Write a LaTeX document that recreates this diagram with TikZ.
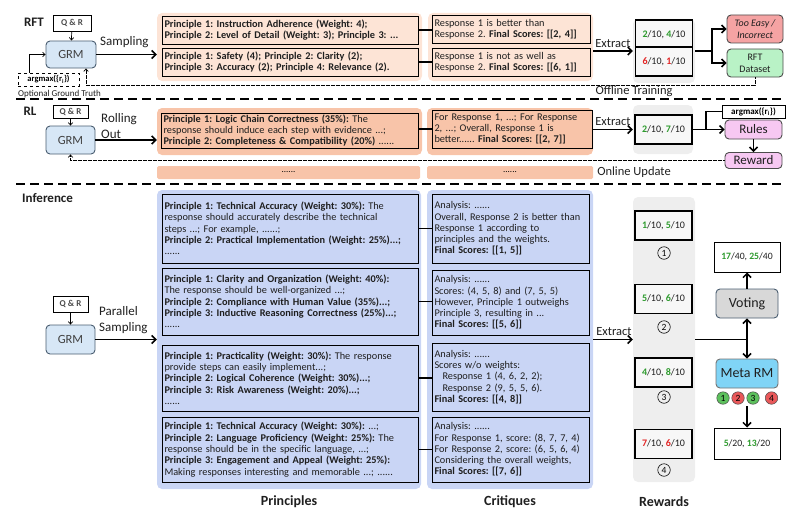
\documentclass[tikz,border=0pt]{standalone}
\usepackage{fontspec}
\setmainfont{Carlito}
\usetikzlibrary{arrows.meta,calc}
\definecolor{salL}{HTML}{FDE4D6}
\definecolor{salD}{HTML}{F8C4A9}
\definecolor{blueBg}{HTML}{C9D5F5}
\definecolor{greyBg}{HTML}{EEEEEE}
\definecolor{grmFill}{HTML}{D7E7F6}
\definecolor{grmDraw}{HTML}{4A5D70}
\definecolor{teFill}{HTML}{F5A3A3}
\definecolor{rdFill}{HTML}{B9F2C6}
\definecolor{pinkFill}{HTML}{F7C8F2}
\definecolor{votFill}{HTML}{D8D8D8}
\definecolor{metaFill}{HTML}{80D4F6}
\definecolor{scG}{HTML}{2E9B2E}
\definecolor{scR}{HTML}{E22424}
\definecolor{circG}{HTML}{5DC15D}
\definecolor{circR}{HTML}{E9585A}
\definecolor{txtc}{HTML}{1F1F1F}
\newcommand{\gnum}[1]{\textcolor{scG}{\textbf{#1}}}
\newcommand{\rnum}[1]{\textcolor{scR}{\textbf{#1}}}
\tikzset{
  arr/.style={line width=1.5pt, -{Straight Barb[length=4pt,width=8pt]}},
  thinarr/.style={line width=0.7pt, -{Straight Barb[length=2.5pt,width=4.5pt]}},
  conn/.style={line width=1.5pt},
  dotln/.style={line width=0.7pt, dash pattern=on 1.6pt off 0.9pt},
  sepln/.style={line width=1.6pt, dash pattern=on 9pt off 5pt},
  bgbox/.style={rounded corners=5pt, draw=none, inner sep=0pt},
  tbox/.style={font=\fontsize{10.3}{11.3}\selectfont, align=left, inner xsep=2.5pt, inner ysep=1pt, draw=black, line width=0.9pt, text=txtc},
  scbox/.style={draw, line width=1.8pt, fill=white!55!greyBg, minimum width=57pt, minimum height=29pt, inner sep=0pt, font=\fontsize{10}{11}\selectfont, text=txtc},
  resbox/.style={draw, line width=1pt, fill=white, minimum width=66pt, minimum height=30pt, inner sep=0pt, font=\fontsize{9.7}{11}\selectfont, text=txtc},
  qrbox/.style={draw, line width=0.8pt, fill=white, inner sep=0pt, font=\fontsize{9}{10}\selectfont\bfseries, text=txtc!80},
  grmbox/.style={draw=grmDraw, fill=grmFill, line width=0.9pt, rounded corners=4pt, minimum width=49pt, minimum height=28pt, inner sep=0pt, font=\fontsize{12.5}{13}\selectfont, text=txtc!85},
  outbox/.style={draw=black!70, line width=0.9pt, rounded corners=4pt, inner sep=0pt, align=center, font=\fontsize{10}{12}\selectfont, text=txtc},
  seclbl/.style={font=\fontsize{13}{14}\selectfont\bfseries, text=txtc, inner sep=0pt},
  lbl/.style={font=\fontsize{13}{16}\selectfont, text=txtc, inner sep=0pt, align=left},
  smlbl/.style={font=\fontsize{12.5}{13}\selectfont, text=txtc, inner sep=0pt},
  collbl/.style={font=\fontsize{14}{15}\selectfont\bfseries, text=txtc, inner sep=0pt},
  dotbar/.style={rounded corners=1.5pt, draw=none, inner sep=0pt, fill=salD, minimum height=13pt, font=\fontsize{9}{10}\selectfont},
  cnum/.style={circle, draw, line width=0.6pt, inner sep=0pt, minimum size=12.5pt, font=\fontsize{9.5}{10}\selectfont},
  mnum/.style={circle, draw=black!70, line width=0.5pt, inner sep=0pt, minimum size=12.5pt, font=\fontsize{9.5}{10}\selectfont}
}
\begin{document}
\frenchspacing
\begin{tikzpicture}[x=1pt,y=-1pt]
\useasboundingbox (0,0) rectangle (799,527);

% ================= RFT =================
\node[seclbl] (rftlbl) at (34,22) {RFT};
\node[qrbox, minimum width=38pt, minimum height=16pt] (qr1) at (72,23) {Q \& R};
\node[grmbox, minimum width=50pt, minimum height=27pt] (grm1) at (71,54.5) {GRM};
\node[draw, dashed, line width=0.8pt, fill=white, minimum width=61pt, minimum height=13pt, inner sep=0pt, font=\fontsize{8.5}{9}\selectfont\bfseries] (am1) at (48.5,79.5) {argmax(\{r\textsubscript{i}\})};
\node[font=\fontsize{9}{10}\selectfont, inner sep=0pt, anchor=west, text=txtc] (ogt) at (18,94) {Optional Ground Truth};
\coordinate (amk) at (29,54.5);
\draw[thinarr] (qr1) -- (grm1);
\draw[thinarr] (am1.north -| amk) -- (amk) -- (grm1.west);

\node[bgbox, fill=salL, minimum width=265pt, minimum height=68pt] (rpbg) at (289.5,47) {};
\node[bgbox, fill=salL, minimum width=165pt, minimum height=68pt] (rcbg) at (510.5,47) {};
\node[tbox, fill=salL, text width=251pt, minimum height=28pt] (rp1) at (290,30) {\textbf{Principle 1: Instruction Adherence (Weight: 4);}\\\textbf{Principle 2: Level of Detail (Weight: 3); Principle 3: ...}};
\node[tbox, fill=salL, text width=251pt, minimum height=28pt] (rp2) at (290,62) {\textbf{Principle 1: Safety (4); Principle 2: Clarity (2);}\\\textbf{Principle 3: Accuracy (2); Principle 4: Relevance (2).}};
\node[tbox, fill=salL, text width=153pt, minimum height=28pt] (rc1) at (511,29) {Response 1 is better than\\Response 2. \textbf{Final Scores: [[2, 4]]}};
\node[tbox, fill=salL, text width=153pt, minimum height=28pt] (rc2) at (511,62) {Response 1 is not as well as\\Response 2. \textbf{Final Scores: [[6, 1]]}};
\draw[conn] (rp1.east) -- (rp1.east -| rc1.west);
\draw[conn] (rp2.east) -- (rp2.east -| rc2.west);

\node[lbl, anchor=west] (samp) at (100,42) {Sampling};
\draw[arr] (grm1.east) -- (grm1.east -| rpbg.west);

\node[bgbox, fill=greyBg, minimum width=62pt, minimum height=64pt] (rsbg) at (664,51) {};
\node[scbox] (rs1) at (664,34.5) {\gnum{2}/10, \gnum{4}/10};
\node[scbox] (rs2) at (664,61.5) {\rnum{6}/10, \rnum{1}/10};
\draw[arr] (rcbg.east |- rsbg.west) -- (rsbg.west);
\node[smlbl, anchor=south] (ext1) at (613,48) {Extract};

\node[outbox, fill=teFill, minimum width=56pt, minimum height=28pt] (te) at (755,29) {\itshape Too Easy /\\\itshape Incorrect};
\node[outbox, fill=rdFill, minimum width=56pt, minimum height=28pt] (rd) at (755,63) {RFT\\Dataset};
\coordinate (j1) at (712,51);
\draw[conn] (rsbg.east) -- (j1);
\draw[arr] (j1) |- (te.west);
\draw[arr] (j1) |- (rd.west);

\coordinate (d1a) at (755,85);
\coordinate (d1b) at (86,85);
\draw[dotln, -{Straight Barb[length=2.5pt,width=4.5pt]}] (rd.south) -- (d1a) -- (d1b) -- (grm1.south -| d1b);
\node[smlbl] (offl) at (634,91.5) {Offline Training};

% separator
\coordinate (s1a) at (16,99);
\coordinate (s1b) at (784,99);
\draw[sepln] (s1a) -- (s1b);

% ================= RL =================
\node[seclbl] (rllbl) at (30,111) {RL};
\node[qrbox, minimum width=35pt, minimum height=13pt] (qr2) at (70.5,111.5) {Q \& R};
\node[grmbox] (grm2) at (70.5,140) {GRM};
\draw[thinarr] (qr2) -- (grm2);
\node[lbl, anchor=west] (roll) at (101,126) {Rolling\\Out};

\node[bgbox, fill=salD, minimum width=265pt, minimum height=47pt] (lpbg) at (289.5,131.5) {};
\node[bgbox, fill=salD, minimum width=166pt, minimum height=47pt] (lcbg) at (510,131.5) {};
\node[tbox, fill=salD, text width=252pt, minimum height=35pt] (lp) at (289.5,130.5) {\textbf{Principle 1: Logic Chain Correctness (35\%):} The\\response should induce each step with evidence ...;\\\textbf{Principle 2: Completeness \& Compatibility (20\%)} ......};
\node[tbox, fill=salD, text width=155pt, minimum height=38pt] (lc) at (512,129) {For Response 1, ...; For Response\\2, ...; Overall, Response 1 is\\better...... \textbf{Final Scores: [[2, 7]]}};
\draw[arr] (grm2.east) -- (grm2.east -| lpbg.west);
\draw[conn] (lp.east |- lc.west) -- (lc.west);

\node[bgbox, fill=greyBg, minimum width=60pt, minimum height=49pt] (lsbg) at (663,129.5) {};
\node[scbox] (ls) at (663.5,129.5) {\gnum{2}/10, \gnum{7}/10};
\draw[arr] (lcbg.east |- lsbg.west) -- (lsbg.west);
\node[smlbl, anchor=south] (ext2) at (613,126) {Extract};

\node[draw, line width=0.9pt, fill=white, minimum width=63pt, minimum height=13pt, inner sep=0pt, font=\fontsize{9}{9}\selectfont\bfseries] (am2) at (753.5,111.5) {argmax(\{r\textsubscript{i}\})};
\node[outbox, fill=pinkFill, minimum width=57pt, minimum height=19pt, font=\fontsize{13}{13}\selectfont] (rules) at (753.5,129.5) {Rules};
\node[outbox, fill=pinkFill, minimum width=57pt, minimum height=16pt, font=\fontsize{13}{13}\selectfont] (reward) at (753.5,160.5) {Reward};
\coordinate (j2) at (706,129.5);
\draw[conn] (ls.east) -- (j2);
\draw[arr] (j2) -- (rules.west);
\draw[conn] (j2) |- (am2.west);
\draw[arr] (rules.south) -- (reward.north);

\draw[dotln, -{Straight Barb[length=2.5pt,width=4.5pt]}] (reward.west) -| (grm2.south);
\node[smlbl] (onl) at (634,172) {Online Update};

\node[dotbar, minimum width=263pt] (ldots1) at (288.5,172.5) {......};
\node[dotbar, minimum width=166pt] (ldots2) at (510,172.5) {......};

% separator
\coordinate (s2a) at (16,184);
\coordinate (s2b) at (784,184);
\draw[sepln] (s2a) -- (s2b);

% ================= Inference =================
\node[seclbl, anchor=west] (inflbl) at (22,198) {Inference};
\node[qrbox, minimum width=35pt, minimum height=16pt] (qr3) at (70.5,304) {Q \& R};
\node[grmbox, minimum height=29pt] (grm3) at (70.5,339.5) {GRM};
\draw[thinarr] (qr3) -- (grm3);
\node[lbl, anchor=west] (par) at (99,320) {Parallel\\Sampling};

\node[bgbox, fill=blueBg, minimum width=264pt, minimum height=299pt] (ipbg) at (289,339.5) {};
\node[bgbox, fill=blueBg, minimum width=166pt, minimum height=299pt] (icbg) at (510,339.5) {};
\draw[arr] (grm3.east) -- (grm3.east -| ipbg.west);

\node[tbox, fill=blueBg, text width=251pt, minimum height=69pt] (ip1) at (290,228.5) {\textbf{Principle 1: Technical Accuracy (Weight: 30\%):} The\\response should accurately describe the technical\\steps ...; For example, ......;\\\textbf{Principle 2: Practical Implementation (Weight: 25\%)...;}\\......};
\node[tbox, fill=blueBg, text width=251pt, minimum height=67pt] (ip2) at (290,301.5) {\textbf{Principle 1: Clarity and Organization (Weight: 40\%):}\\The response should be well-organized ...;\\\textbf{Principle 2: Compliance with Human Value (35\%)...;}\\\textbf{Principle 3: Inductive Reasoning Correctness (25\%)...;}\\......};
\node[tbox, fill=blueBg, text width=251pt, minimum height=66pt] (ip3) at (290,378) {\textbf{Principle 1: Practicality (Weight: 30\%):} The response\\provide steps can easily implement...;\\\textbf{Principle 2: Logical Coherence (Weight: 30\%)...;}\\\textbf{Principle 3: Risk Awareness (Weight: 20\%)...;}\\......};
\node[tbox, fill=blueBg, text width=251pt, minimum height=65pt] (ip4) at (290,449.5) {\textbf{Principle 1: Technical Accuracy (Weight: 30\%):} ...;\\\textbf{Principle 2: Language Proficiency (Weight: 25\%):} The\\response should be in the specific language, ...;\\\textbf{Principle 3: Engagement and Appeal (Weight: 25\%):}\\Making responses interesting and memorable ...; ......};

\node[tbox, fill=blueBg, text width=152pt, minimum height=69pt] (ic1) at (510.5,228.5) {Analysis: ......\\Overall, Response 2 is better than\\Response 1 according to\\principles and the weights.\\\textbf{Final Scores: [[1, 5]]}};
\node[tbox, fill=blueBg, text width=152pt, minimum height=65pt] (ic2) at (510.5,302.5) {Analysis: ......\\Scores: (4, 5, 8) and (7, 5, 5)\\However, Principle 1 outweighs\\Principle 3, resulting in ...\\\textbf{Final Scores: [[5, 6]]}};
\node[tbox, fill=blueBg, text width=152pt, minimum height=68pt] (ic3) at (510.5,377) {Analysis: ......\\Scores w/o weights:\\\hspace*{8pt}Response 1 (4, 6, 2, 2);\\\hspace*{8pt}Response 2 (9, 5, 5, 6).\\\textbf{Final Scores: [[4, 8]]}};
\node[tbox, fill=blueBg, text width=152pt, minimum height=65pt] (ic4) at (510.5,449.5) {Analysis: ......\\For Response 1, score: (8, 7, 7, 4)\\For Response 2, score: (6, 5, 6, 4)\\Considering the overall weights,\\\textbf{Final Scores: [[7, 6]]}};

\draw[conn] (ip1.east) -- (ip1.east -| ic1.west);
\draw[conn] (ip2.east) -- (ip2.east -| ic2.west);
\draw[conn] (ip3.east) -- (ip3.east -| ic3.west);
\draw[conn] (ip4.east) -- (ip4.east -| ic4.west);

\node[collbl] (plbl) at (289,502) {Principles};
\node[collbl] (clbl) at (510,502) {Critiques};

\node[bgbox, fill=greyBg, minimum width=62pt, minimum height=285pt] (rwbg) at (664,339.5) {};
\node[collbl] (rwlbl) at (664,502) {Rewards};
\node[scbox] (r1) at (663.5,225.5) {\gnum{1}/10, \gnum{5}/10};
\node[scbox] (r2) at (663.5,299) {\gnum{5}/10, \gnum{6}/10};
\node[scbox] (r3) at (663.5,372.5) {\gnum{4}/10, \gnum{8}/10};
\node[scbox] (r4) at (663.5,444) {\rnum{7}/10, \rnum{6}/10};
\node[cnum] (n1) at (664,253) {1};
\node[cnum] (n2) at (664,327) {2};
\node[cnum] (n3) at (664,397) {3};
\node[cnum] (n4) at (664,470) {4};
\draw[arr] (icbg.east |- rwbg.west) -- (rwbg.west);
\node[smlbl, anchor=south] (ext3) at (614,336) {Extract};

\node[outbox, fill=votFill, draw=grmDraw, minimum width=62pt, minimum height=29pt, font=\fontsize{14}{14}\selectfont] (vot) at (747,303.5) {Voting};
\node[resbox] (res1) at (747,257) {\gnum{17}/40, \gnum{25}/40};
\node[outbox, fill=metaFill, draw=black!55, minimum width=62pt, minimum height=29pt, font=\fontsize{14}{14}\selectfont] (meta) at (747,373.5) {Meta RM};
\node[mnum, fill=circG] (m1) at (723,398) {1};
\node[mnum, fill=circR] (m2) at (738,398) {2};
\node[mnum, fill=circG] (m3) at (753,398) {3};
\node[mnum, fill=circR] (m4) at (771.5,398) {4};
\node[resbox, minimum height=31pt] (res2) at (747,443.5) {\gnum{5}/20, \gnum{13}/20};
\coordinate (j3) at (747,339.5);
\coordinate (mout) at (747,406);
\draw[conn] (rwbg.east) -- (j3);
\draw[arr] (j3) -- (vot.south);
\draw[arr] (j3) -- (meta.north);
\draw[arr] (vot.north) -- (res1.south);
\draw[arr] (mout) -- (res2.north);
\end{tikzpicture}
\end{document}
